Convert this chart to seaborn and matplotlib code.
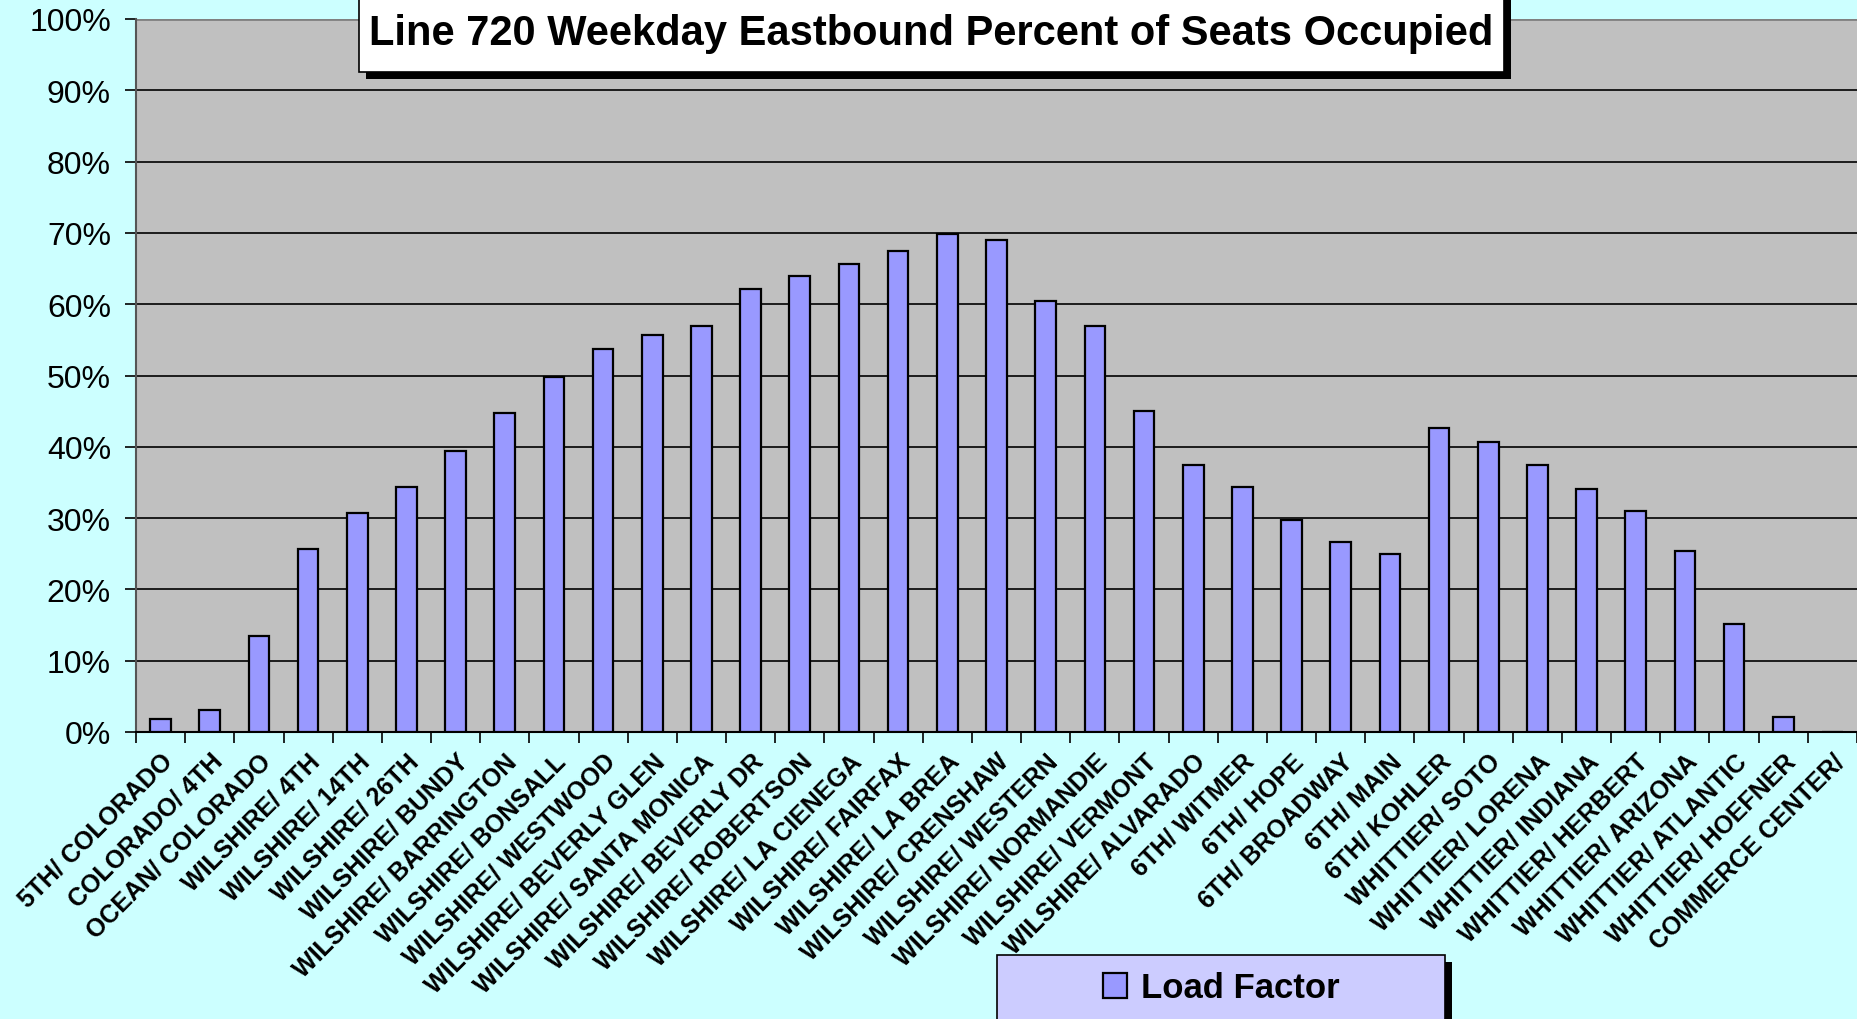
import matplotlib
matplotlib.use("Agg")
import matplotlib.pyplot as plt
from matplotlib.patches import Rectangle
from matplotlib.ticker import FixedLocator, PercentFormatter
import seaborn as sns
import pandas as pd
import numpy as np

stops = [
    "5TH/ COLORADO", "COLORADO/ 4TH", "OCEAN/ COLORADO", "WILSHIRE/ 4TH",
    "WILSHIRE/ 14TH", "WILSHIRE/ 26TH", "WILSHIRE/ BUNDY", "WILSHIRE/ BARRINGTON",
    "WILSHIRE/ BONSALL", "WILSHIRE/ WESTWOOD", "WILSHIRE/ BEVERLY GLEN",
    "WILSHIRE/ SANTA MONICA", "WILSHIRE/ BEVERLY DR", "WILSHIRE/ ROBERTSON",
    "WILSHIRE/ LA CIENEGA", "WILSHIRE/ FAIRFAX", "WILSHIRE/ LA BREA",
    "WILSHIRE/ CRENSHAW", "WILSHIRE/ WESTERN", "WILSHIRE/ NORMANDIE",
    "WILSHIRE/ VERMONT", "WILSHIRE/ ALVARADO", "6TH/ WITMER", "6TH/ HOPE",
    "6TH/ BROADWAY", "6TH/ MAIN", "6TH/ KOHLER", "WHITTIER/ SOTO",
    "WHITTIER/ LORENA", "WHITTIER/ INDIANA", "WHITTIER/ HERBERT",
    "WHITTIER/ ARIZONA", "WHITTIER/ ATLANTIC", "WHITTIER/ HOEFNER",
    "COMMERCE CENTER/",
]
load_factor = [
    1.8, 3.1, 13.5, 25.7, 30.7, 34.4, 39.4, 44.7, 49.8, 53.7, 55.7, 57.0,
    62.1, 64.0, 65.7, 67.4, 69.8, 69.0, 60.4, 57.0, 45.0, 37.4, 34.3, 29.7,
    26.7, 25.0, 42.7, 40.7, 37.4, 34.1, 31.0, 25.4, 15.1, 2.1, 0.0,
]
series_name = "Load Factor"
title = "Line 720 Weekday Eastbound Percent of Seats Occupied"
y_ticks = list(range(0, 101, 10))

W, H = 1857, 1020
plt.rcParams["font.family"] = ["Liberation Sans", "DejaVu Sans"]

fig = plt.figure(figsize=(W / 100, H / 100), dpi=100, facecolor="#CCFFFF")
ax = fig.add_axes([136 / W, 1 - 733 / H, (W - 136) / W, (733 - 20) / H])
ax.set_facecolor("#C0C0C0")

df = pd.DataFrame({"stop": stops, "value": load_factor})
sns.barplot(data=df, x="stop", y="value", color="#9999FF", saturation=1,
            edgecolor="black", linewidth=1.6, width=0.42, ax=ax,
            label=series_name, zorder=3)
if ax.get_legend() is not None:
    ax.get_legend().remove()

ax.set_xlim(-0.5, len(stops) - 0.5)
ax.set_ylim(0, 100)
ax.yaxis.set_major_locator(FixedLocator(y_ticks))
ax.yaxis.set_major_formatter(PercentFormatter(decimals=0))
ax.grid(axis="y", color="black", linewidth=1.2, zorder=1)
ax.set_axisbelow(True)
ax.set_xlabel("")
ax.set_ylabel("")

for s in ["top", "right"]:
    ax.spines[s].set_visible(False)
ax.spines["left"].set_color("#555555")
ax.spines["left"].set_linewidth(1.5)
ax.spines["bottom"].set_color("black")
ax.spines["bottom"].set_linewidth(1.5)
ax.axhline(100, color="#808080", linewidth=2, zorder=2)

ax.tick_params(axis="y", length=8, width=1.2, pad=10, labelsize=23, colors="black")
ax.tick_params(axis="x", which="major", length=0, pad=12, labelsize=18)
ax.set_xticks(np.arange(-0.5, len(stops), 1.0), minor=True)
ax.tick_params(axis="x", which="minor", length=8, width=1.2)
for lab in ax.get_xticklabels():
    lab.set_rotation(45)
    lab.set_ha("right")
    lab.set_va("top")
    lab.set_rotation_mode("anchor")
    lab.set_fontweight("bold")

# Title box with black drop shadow
def fig_rect(x0, y0, x1, y1, **kw):
    fig.add_artist(Rectangle((x0 / W, 1 - y1 / H), (x1 - x0) / W, (y1 - y0) / H,
                             transform=fig.transFigure, **kw))

fig_rect(366, -10, 1511, 80, facecolor="black", edgecolor="none", zorder=5)
fig_rect(359, -10, 1504, 73, facecolor="white", edgecolor="black", linewidth=1.2, zorder=6)
fig.text(931 / W, 1 - 34 / H, title, ha="center", va="center", fontsize=30,
         fontweight="bold", zorder=7)

# Legend box
fig_rect(1004, 963, 1452, 1030, facecolor="black", edgecolor="none", zorder=5)
fig_rect(997, 956, 1445, 1030, facecolor="#CCCCFF", edgecolor="black", linewidth=1.2, zorder=6)
handles, labels = ax.get_legend_handles_labels()
leg = fig.legend(handles[:1], [series_name], loc="center", bbox_to_anchor=(1221 / W, 1 - 989 / H),
                 frameon=False, prop={"weight": "bold", "size": 25},
                 handlelength=0.7, handleheight=0.7, handletextpad=0.4)
leg.set_zorder(8)

fig.savefig("out.png", dpi=100, facecolor=fig.get_facecolor())
